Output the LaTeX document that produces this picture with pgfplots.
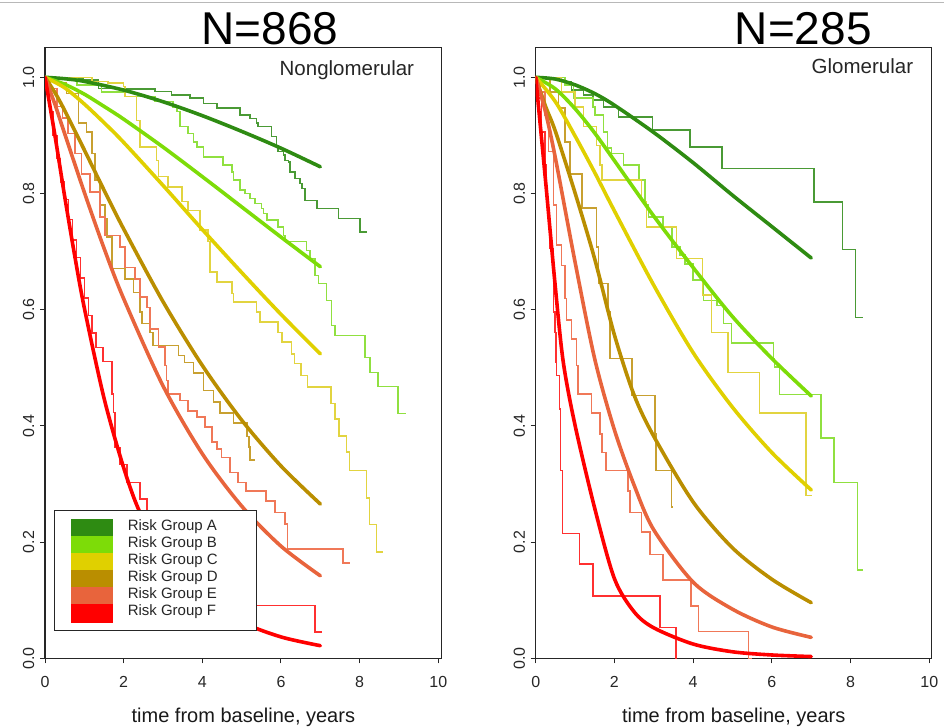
\documentclass[border=0pt]{standalone}
\usepackage{fontspec}
\setmainfont{Liberation Sans}
\usepackage{pgfplots}
\pgfplotsset{compat=1.18}
\definecolor{cA}{HTML}{2E8B12}
\definecolor{cB}{HTML}{7DDC08}
\definecolor{cC}{HTML}{E0D000}
\definecolor{cD}{HTML}{BA8E00}
\definecolor{cE}{HTML}{E8643C}
\definecolor{cF}{HTML}{FF0000}
\definecolor{sA}{HTML}{4A9A35}
\definecolor{sB}{HTML}{90E040}
\definecolor{sC}{HTML}{E2D440}
\definecolor{sD}{HTML}{C8A030}
\definecolor{sE}{HTML}{F07858}
\definecolor{sF}{HTML}{FF3030}
\pgfplotsset{
  panel/.style={
    scale only axis, height=611pt,
    xmin=0, ymin=0, ymax=1.0517,
    xtick={0,2,4,6,8,10},
    ytick={0,0.2,0.4,0.6,0.8,1},
    yticklabels={0.0,0.2,0.4,0.6,0.8,1.0},
    tick align=outside, tick pos=left, major tick length=5pt,
    axis line style={black!85, line width=1.1pt},
    tick style={black!85, line width=1pt},
    /pgf/number format/assume math mode=true,
    ticklabel style={font=\fontsize{16}{16}\selectfont, text=black!85},
    yticklabel style={xshift=-5.6pt, rotate=90, anchor=south, inner sep=0pt},
    xticklabel style={anchor=north, inner sep=0pt, yshift=-12.8pt},
    xlabel={time from baseline, years},
    xlabel style={font=\fontsize{20}{20}\selectfont, text=black!90, at={(axis description cs:0.5,0)}, anchor=base, yshift=-64.4pt},
  },
  sm/.style={line width=3.6pt, line cap=round, smooth, tension=0.5},
  st/.style={line width=1.5pt, const plot, forget plot},
}
\begin{document}
\begin{tikzpicture}[x=1pt,y=1pt]
\useasboundingbox (0,0) rectangle (944,727);
\draw[black!28, line width=1.2pt] (0,724.3) -- (944,724.3);

% ---------------- left panel ----------------
\begin{axis}[panel, at={(45pt,68.7pt)}, anchor=south west, width=396.7pt, xmax=10.086,
  legend image code/.code={\fill[#1] (0pt,-7.8pt) rectangle (38.6pt,7.8pt);},
  legend cell align=left,
  legend style={at={(axis description cs:0,0)}, anchor=south west, xshift=9pt, yshift=27.3pt,
    draw=black!85, line width=1.1pt, fill=white, inner xsep=16.7pt, inner ysep=7.7pt,
    font=\fontsize{15}{17}\selectfont, row sep=-2.2pt,
    nodes={inner sep=0pt, text height=10pt, text depth=5pt, text=black!85}},
]
% step functions (Kaplan-Meier)
\addplot[st, sA] coordinates {(0,1) (0.38,0.998) (0.97,0.995) (1.36,0.981) (2.0,0.980) (2.8,0.976) (3.22,0.970) (3.69,0.964) (4.03,0.955) (4.37,0.947) (4.96,0.935) (5.21,0.929) (5.38,0.921) (5.42,0.915) (5.76,0.898) (5.89,0.880) (5.93,0.872) (6.06,0.866) (6.10,0.857) (6.19,0.854) (6.23,0.837) (6.36,0.826) (6.48,0.817) (6.53,0.809) (6.61,0.788) (6.91,0.774) (7.46,0.757) (8.01,0.734) (8.18,0.734)};
\addplot[st, sB] coordinates {(0,1) (0.81,0.987) (1.44,0.975) (2.03,0.967) (2.80,0.958) (3.26,0.949) (3.35,0.941) (3.43,0.915) (3.64,0.903) (3.77,0.889) (3.86,0.880) (4.03,0.863) (4.53,0.849) (4.75,0.837) (4.79,0.823) (4.96,0.806) (5.085,0.800) (5.21,0.791) (5.34,0.783) (5.51,0.774) (5.55,0.766) (5.64,0.754) (5.93,0.742) (6.06,0.728) (6.10,0.717) (6.65,0.702) (6.74,0.688) (6.86,0.659) (6.95,0.645) (7.16,0.616) (7.29,0.573) (7.37,0.556) (8.14,0.518) (8.26,0.492) (8.47,0.468) (8.98,0.421) (9.18,0.421)};
\addplot[st, sC] coordinates {(0,1) (1.2,0.993) (1.6,0.990) (1.99,0.984) (2.03,0.967) (2.33,0.926) (2.42,0.880) (2.84,0.857) (2.88,0.829) (3.13,0.811) (3.48,0.786) (3.64,0.771) (3.94,0.737) (4.15,0.717) (4.19,0.665) (4.37,0.648) (4.75,0.628) (4.79,0.613) (5.38,0.596) (5.47,0.579) (5.93,0.561) (6.02,0.544) (6.27,0.524) (6.34,0.507) (6.51,0.487) (6.68,0.467) (7.27,0.439) (7.37,0.412) (7.48,0.383) (7.67,0.355) (7.74,0.323) (8.18,0.276) (8.25,0.230) (8.43,0.183) (8.60,0.183)};
\addplot[st, sD] coordinates {(0,1) (0.3,0.990) (0.55,0.972) (0.85,0.921) (1.06,0.906) (1.19,0.869) (1.27,0.823) (1.40,0.780) (1.53,0.757) (1.57,0.725) (1.70,0.671) (2.03,0.653) (2.25,0.630) (2.42,0.596) (2.46,0.576) (2.67,0.561) (2.75,0.538) (3.40,0.521) (3.55,0.509) (3.77,0.491) (4.03,0.461) (4.28,0.441) (4.45,0.422) (4.79,0.405) (5.13,0.382) (5.19,0.364) (5.21,0.341) (5.34,0.341)};
\addplot[st, sE] coordinates {(0,1) (0.13,0.981) (0.3,0.950) (0.45,0.930) (0.59,0.903) (0.76,0.869) (0.93,0.834) (1.14,0.803) (1.40,0.760) (1.53,0.728) (1.91,0.708) (2.03,0.673) (2.29,0.653) (2.42,0.622) (2.59,0.604) (2.67,0.567) (2.88,0.536) (3.05,0.504) (3.09,0.478) (3.13,0.455) (3.43,0.444) (3.64,0.426) (3.86,0.415) (4.07,0.398) (4.24,0.372) (4.37,0.360) (4.49,0.346) (4.70,0.320) (4.91,0.303) (5.11,0.288) (5.62,0.271) (5.85,0.251) (6.10,0.231) (6.16,0.188) (7.58,0.164) (7.75,0.164)};
\addplot[st, sF] coordinates {(0,1) (0.05,0.975) (0.12,0.940) (0.2,0.900) (0.3,0.860) (0.4,0.820) (0.5,0.790) (0.6,0.755) (0.7,0.720) (0.8,0.690) (0.9,0.655) (1.0,0.620) (1.1,0.590) (1.2,0.560) (1.3,0.535) (1.48,0.511) (1.70,0.455) (1.74,0.423) (1.78,0.363) (1.91,0.334) (2.08,0.303) (2.42,0.274) (2.59,0.251) (2.7,0.220) (3.0,0.190) (3.3,0.160) (3.7,0.130) (4.2,0.110) (4.6,0.097) (5.0,0.0907) (6.86,0.0454) (7.03,0.0454)};
% fitted curves
\addplot[sm, cA] coordinates {(0,1) (0.5,0.9976) (1,0.993) (2,0.978) (3,0.958) (4,0.934) (5,0.907) (6,0.878) (7,0.846)};
\addlegendentry{\hspace*{14.3pt}Risk Group A\hspace*{22pt}}
\addplot[sm, cB] coordinates {(0,1) (0.5,0.988) (1,0.971) (1.5,0.950) (2,0.928) (3,0.880) (4,0.829) (5,0.777) (6,0.725) (7,0.674)};
\addlegendentry{\hspace*{14.3pt}Risk Group B\hspace*{22pt}}
\addplot[sm, cC] coordinates {(0,1) (0.5,0.982) (1,0.954) (1.5,0.922) (2,0.888) (3,0.814) (4,0.738) (5,0.664) (6,0.592) (7,0.524)};
\addlegendentry{\hspace*{14.3pt}Risk Group C\hspace*{22pt}}
\addplot[sm, cD] coordinates {(0,1) (0.25,0.974) (0.5,0.943) (1,0.875) (1.5,0.806) (2,0.739) (3,0.614) (4,0.504) (5,0.410) (6,0.331) (7,0.2655)};
\addlegendentry{\hspace*{14.3pt}Risk Group D\hspace*{22pt}}
\addplot[sm, cE] coordinates {(0,1) (0.25,0.954) (0.5,0.903) (1,0.802) (1.5,0.706) (2,0.619) (3,0.469) (4,0.352) (5,0.262) (6,0.193) (7,0.142)};
\addlegendentry{\hspace*{14.3pt}Risk Group E\hspace*{22pt}}
\addplot[sm, cF] coordinates {(0,1) (0.25,0.901) (0.5,0.795) (0.75,0.695) (1,0.603) (1.5,0.448) (2,0.328) (2.415,0.251) (3,0.183) (4,0.1066) (5,0.0625) (6,0.0368) (7,0.0217)};
\addlegendentry{\hspace*{14.3pt}Risk Group F\hspace*{22pt}}
\end{axis}

% ---------------- right panel ----------------
\begin{axis}[panel, at={(535.7pt,68.7pt)}, anchor=south west, width=396pt, xmax=10.06]
\addplot[st, sA] coordinates {(0,1) (0.744,0.992) (0.915,0.978) (1.21,0.970) (1.46,0.961) (1.72,0.949) (2.10,0.932) (2.97,0.909) (3.92,0.880) (4.73,0.843) (7.07,0.785) (7.79,0.704) (8.13,0.587) (8.32,0.587)};
\addplot[st, sB] coordinates {(0,1) (0.744,0.987) (0.955,0.964) (1.46,0.949) (1.51,0.935) (1.72,0.906) (1.82,0.878) (1.93,0.869) (2.23,0.849) (2.63,0.823) (2.78,0.780) (2.86,0.760) (3.24,0.742) (3.46,0.708) (3.67,0.694) (3.79,0.679) (4.00,0.651) (4.26,0.616) (4.60,0.607) (4.77,0.576) (4.98,0.543) (6.04,0.516) (6.06,0.501) (6.19,0.454) (7.25,0.379) (7.58,0.303) (8.17,0.152) (8.32,0.152)};
\addplot[st, sC] coordinates {(0,1) (0.66,0.975) (1.0,0.949) (1.21,0.915) (1.55,0.883) (1.63,0.849) (1.68,0.823) (2.69,0.786) (2.82,0.742) (3.58,0.688) (4.24,0.625) (4.47,0.561) (4.89,0.492) (5.68,0.422) (6.87,0.280) (7.01,0.280)};
\addplot[st, sD] coordinates {(0,1) (0.363,0.975) (0.574,0.947) (0.744,0.889) (0.871,0.834) (1.17,0.775) (1.55,0.708) (1.59,0.645) (1.84,0.596) (1.89,0.516) (2.44,0.452) (3.03,0.386) (3.06,0.323) (3.45,0.260) (3.50,0.260)};
\addplot[st, sE] coordinates {(0,1) (0.11,0.975) (0.236,0.935) (0.32,0.872) (0.447,0.780) (0.534,0.711) (0.66,0.676) (0.744,0.619) (0.787,0.582) (0.915,0.550) (1.04,0.504) (1.08,0.455) (1.42,0.422) (1.63,0.386) (1.68,0.354) (1.79,0.323) (2.35,0.288) (2.40,0.251) (2.69,0.217) (2.90,0.179) (3.24,0.1345) (3.94,0.090) (4.13,0.046) (5.40,0) (5.50,0)};
\addplot[st, sF] coordinates {(0,1) (0.066,0.964) (0.152,0.906) (0.236,0.849) (0.28,0.791) (0.32,0.757) (0.363,0.705) (0.447,0.596) (0.49,0.561) (0.516,0.510) (0.533,0.487) (0.60,0.429) (0.635,0.323) (0.686,0.215) (1.11,0.162) (1.46,0.107) (3.16,0.053) (3.56,0) (3.60,0)};
\addplot[sm, cA] coordinates {(0,1) (0.5,0.997) (1,0.987) (1.5,0.972) (2,0.952) (3,0.905) (4,0.853) (5,0.797) (6,0.743) (7,0.689)};
\addplot[sm, cB] coordinates {(0,1) (0.5,0.980) (1,0.946) (1.5,0.904) (2,0.8565) (3,0.761) (4,0.6725) (5,0.588) (6,0.516) (7,0.4515)};
\addplot[sm, cC] coordinates {(0,1) (0.5,0.958) (1,0.899) (1.5,0.836) (2,0.770) (3,0.642) (4,0.526) (5,0.432) (6,0.354) (7,0.2897)};
\addplot[sm, cD] coordinates {(0,1) (0.25,0.950) (0.5,0.907) (1,0.801) (1.5,0.687) (2,0.5565) (2.5,0.453) (3,0.382) (4,0.269) (5,0.190) (6,0.136) (7,0.0957)};
\addplot[sm, cE] coordinates {(0,1) (0.25,0.940) (0.5,0.861) (1,0.682) (1.5,0.515) (2,0.393) (2.5,0.298) (3,0.221) (4,0.131) (5,0.0845) (6,0.0539) (7,0.036)};
\addplot[sm, cF] coordinates {(0,1) (0.25,0.822) (0.5,0.638) (0.7,0.510) (1,0.401) (1.5,0.258) (2,0.137) (2.5,0.080) (3,0.0524) (4,0.0245) (5,0.0112) (6,0.0057) (7,0.003)};
\end{axis}

% titles and panel labels
\node[anchor=base, inner sep=0pt, font=\fontsize{46}{46}\selectfont] at (270,682) {N=868};
\node[anchor=base, inner sep=0pt, font=\fontsize{46}{46}\selectfont] at (803.3,682) {N=285};
\node[anchor=base east, inner sep=0pt, text=black!85, font=\fontsize{20.5}{20.5}\selectfont] at (414.3,651) {Nonglomerular};
\node[anchor=base east, inner sep=0pt, text=black!85, font=\fontsize{20.5}{20.5}\selectfont] at (913.3,653) {Glomerular};
\end{tikzpicture}
\end{document}
